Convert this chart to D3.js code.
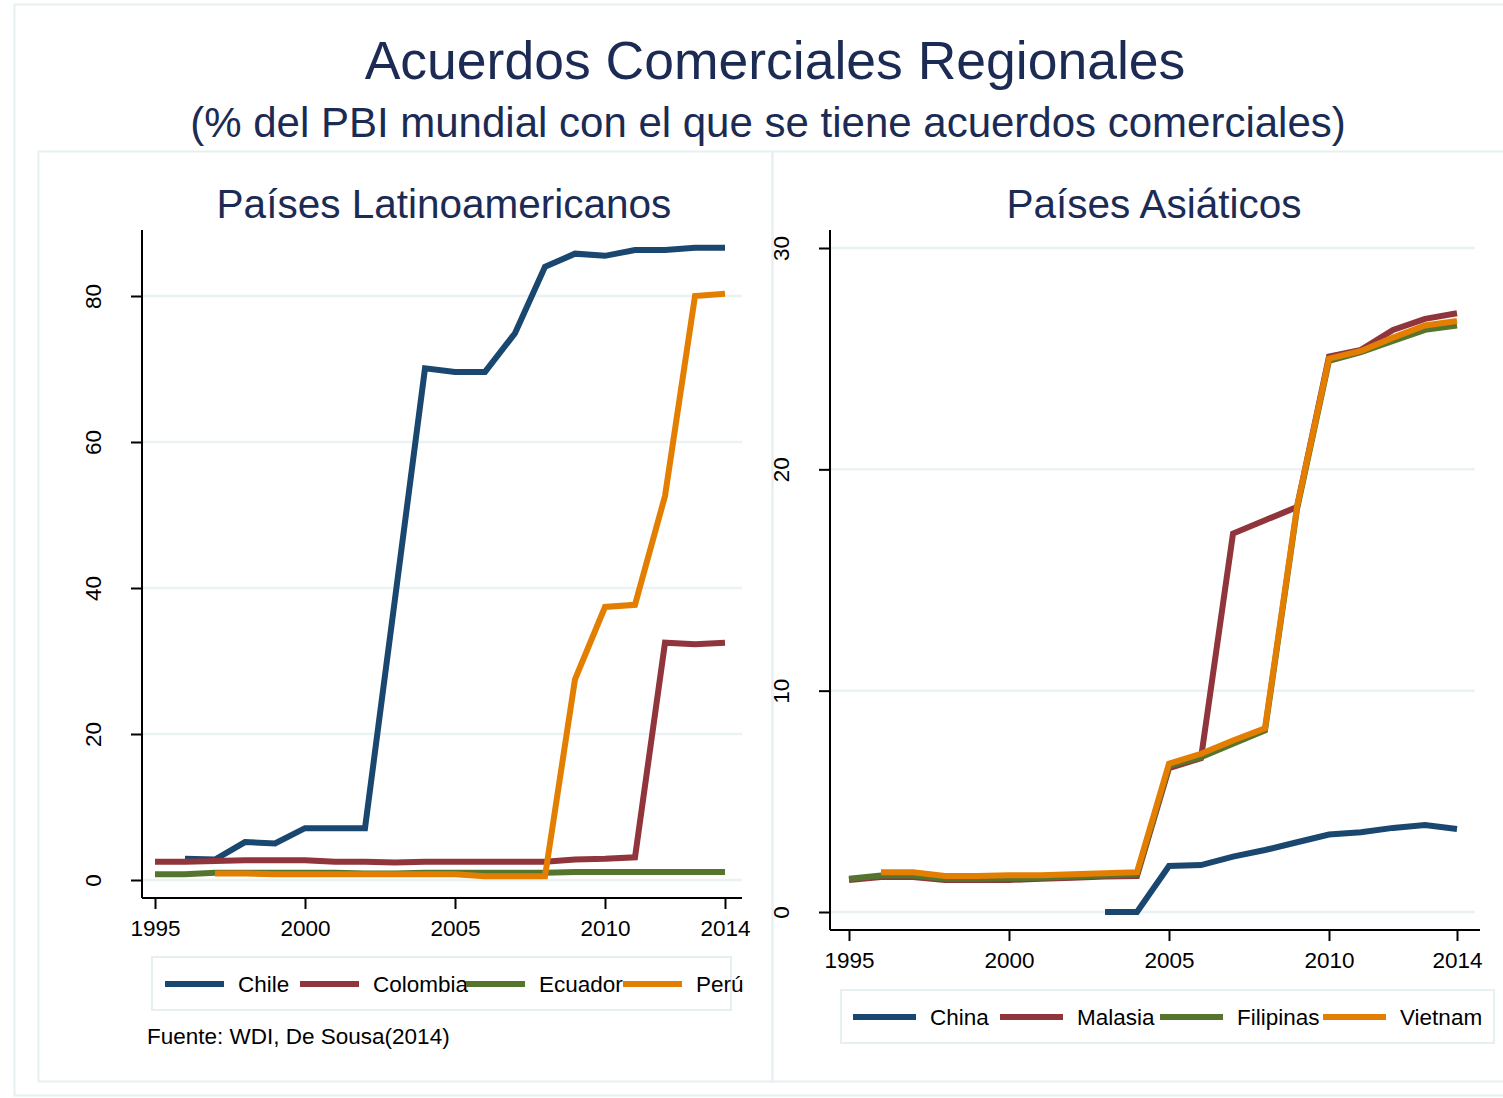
<!DOCTYPE html>
<html>
<head>
<meta charset="utf-8">
<script src="https://cdn.jsdelivr.net/npm/d3@7"></script>
<style>
  body { margin: 0; background: #fff; }
  svg { display: block; font-family: "Liberation Sans", Arial, sans-serif; }
</style>
</head>
<body>
<div id="chart"></div>
<script>
// data
var years = d3.range(1995, 2015);

var latamNames = ['Chile', 'Colombia', 'Ecuador', 'Perú'];
var chile    = [null, 2.9, 2.8, 5.2, 5.0, 7.1, 7.1, 7.1, 38.5, 70.1, 69.6, 69.6, 74.9, 84.0, 85.8, 85.5, 86.3, 86.3, 86.6, 86.6];
var colombia = [2.5, 2.5, 2.6, 2.7, 2.7, 2.7, 2.5, 2.5, 2.4, 2.5, 2.5, 2.5, 2.5, 2.5, 2.8, 2.9, 3.1, 32.5, 32.3, 32.5];
var ecuador  = [0.8, 0.8, 1.0, 1.0, 1.0, 1.0, 1.0, 0.9, 0.9, 1.0, 1.0, 1.0, 1.0, 1.0, 1.1, 1.1, 1.1, 1.1, 1.1, 1.1];
var peru     = [null, null, 0.9, 0.9, 0.8, 0.8, 0.8, 0.8, 0.8, 0.8, 0.8, 0.5, 0.5, 0.5, 27.5, 37.4, 37.7, 52.6, 80.0, 80.3];

var asiaNames = ['China', 'Malasia', 'Filipinas', 'Vietnam'];
var china     = [null, null, null, null, null, null, null, null, 0, 0, 2.08, 2.12, 2.5, 2.8, 3.15, 3.5, 3.6, 3.8, 3.93, 3.75];
var malasia   = [1.45, 1.58, 1.58, 1.45, 1.45, 1.45, 1.5, 1.55, 1.6, 1.63, 6.5, 6.95, 17.1, 17.7, 18.3, 25.1, 25.4, 26.3, 26.8, 27.05];
var filipinas = [1.5, 1.65, 1.65, 1.5, 1.5, 1.52, 1.55, 1.6, 1.65, 1.7, 6.6, 7.0, 7.6, 8.2, 18.2, 24.9, 25.3, 25.8, 26.3, 26.5];
var vietnam   = [null, 1.8, 1.8, 1.63, 1.63, 1.66, 1.66, 1.7, 1.75, 1.8, 6.7, 7.15, 7.75, 8.3, 18.3, 25.0, 25.35, 25.95, 26.5, 26.7];

var xTicks = [1995, 2000, 2005, 2010, 2014];
var latamYTicks = [0, 20, 40, 60, 80];
var asiaYTicks = [0, 10, 20, 30];

var colors = ['#1a476f', '#90353b', '#55752f', '#e37e00'];

var W = 1503, H = 1098;
var svg = d3.select('#chart').append('svg').attr('width', W).attr('height', H);

var frame = '#e6eff1', grid = '#eaf2f3', navy = '#1c2b54';
var fam = '"Liberation Sans", Arial, sans-serif';

// outer frame and panel boxes
svg.append('rect').attr('x', 14.5).attr('y', 4.5).attr('width', W).attr('height', 1091)
  .attr('fill', 'none').attr('stroke', frame).attr('stroke-width', 2);
svg.append('rect').attr('x', 38.5).attr('y', 151.5).attr('width', 734).attr('height', 930)
  .attr('fill', 'none').attr('stroke', frame).attr('stroke-width', 2);
svg.append('rect').attr('x', 772.5).attr('y', 151.5).attr('width', 740).attr('height', 930)
  .attr('fill', 'none').attr('stroke', frame).attr('stroke-width', 2);

svg.append('text').attr('x', 775).attr('y', 79).attr('text-anchor', 'middle')
  .attr('font-size', 53.5).attr('fill', navy).text('Acuerdos Comerciales Regionales');
svg.append('text').attr('x', 768).attr('y', 137).attr('text-anchor', 'middle')
  .attr('font-size', 42).attr('fill', navy).text('(% del PBI mundial con el que se tiene acuerdos comerciales)');

function panel(opt) {
  var g = svg.append('g');
  var x = d3.scaleLinear().domain([1995, 2014]).range([opt.x0, opt.x1]);
  var y = d3.scaleLinear().domain([0, opt.ymax]).range([opt.y0, opt.y1]);

  g.append('text').attr('x', opt.titleX).attr('y', 218).attr('text-anchor', 'middle')
    .attr('font-size', 40.5).attr('fill', navy).text(opt.title);

  // grid
  g.selectAll('.grid').data(opt.yTicks).enter().append('line')
    .attr('x1', opt.axX).attr('x2', opt.gridEnd)
    .attr('y1', function(d) { return y(d); }).attr('y2', function(d) { return y(d); })
    .attr('stroke', grid).attr('stroke-width', 2.5);

  // y axis
  var ya = g.append('g').attr('transform', 'translate(' + opt.axX + ',0)')
    .call(d3.axisLeft(y).tickValues(opt.yTicks).tickSize(11).tickPadding(0).tickFormat(d3.format('d')));
  ya.select('.domain').attr('d', 'M0,' + opt.axTop + 'V' + opt.axY).attr('stroke', '#000').attr('stroke-width', 2);
  ya.selectAll('.tick line').attr('stroke', '#000').attr('stroke-width', 2);
  ya.selectAll('.tick text').attr('font-size', 22.5).attr('fill', '#000').attr('font-family', fam)
    .attr('transform', 'translate(-49,0) rotate(-90)').attr('text-anchor', 'middle').attr('x', 0).attr('dy', '0.35em');

  // x axis
  var xa = g.append('g').attr('transform', 'translate(0,' + opt.axY + ')')
    .call(d3.axisBottom(x).tickValues(xTicks).tickSize(11).tickPadding(11).tickFormat(d3.format('d')));
  xa.select('.domain').attr('d', 'M' + opt.axX + ',0H' + opt.axRight).attr('stroke', '#000').attr('stroke-width', 2);
  xa.selectAll('.tick line').attr('stroke', '#000').attr('stroke-width', 2);
  xa.selectAll('.tick text').attr('font-size', 22.5).attr('fill', '#000').attr('font-family', fam);

  var line = d3.line()
    .defined(function(d) { return d != null; })
    .x(function(d, i) { return x(years[i]); })
    .y(function(d) { return y(d); });

  g.selectAll('.series').data(opt.series).enter().append('path')
    .attr('d', line).attr('fill', 'none')
    .attr('stroke', function(d, i) { return colors[i]; })
    .attr('stroke-width', 6).attr('stroke-linejoin', 'miter');

  // legend
  g.append('rect').attr('x', opt.lx).attr('y', opt.ly).attr('width', opt.lw).attr('height', 53)
    .attr('fill', 'none').attr('stroke', frame).attr('stroke-width', 2);
  var items = g.selectAll('.leg').data(opt.names).enter().append('g')
    .attr('transform', function(d, i) { return 'translate(' + opt.legX[i] + ',' + (opt.ly + 27) + ')'; });
  items.append('line').attr('x1', 0).attr('x2', opt.sw).attr('y1', 0).attr('y2', 0)
    .attr('stroke', function(d, i) { return colors[i]; }).attr('stroke-width', 6);
  items.append('text').attr('x', opt.sw + 14).attr('y', 8).attr('font-size', 22.5).attr('fill', '#000')
    .text(function(d) { return d; });
}

panel({
  title: 'Países Latinoamericanos', titleX: 444,
  x0: 155, x1: 725, y0: 880, y1: 296, ymax: 80,
  axX: 142, axY: 898, axTop: 230, axRight: 742, gridEnd: 742,
  yTicks: latamYTicks,
  series: [chile, colombia, ecuador, peru], names: latamNames,
  lx: 152, ly: 957, lw: 579, sw: 59, legX: [165, 300, 466, 623]
});

panel({
  title: 'Países Asiáticos', titleX: 1154,
  x0: 849, x1: 1457, y0: 912, y1: 248, ymax: 30,
  axX: 830, axY: 930, axTop: 230, axRight: 1480, gridEnd: 1475,
  yTicks: asiaYTicks,
  series: [china, malasia, filipinas, vietnam], names: asiaNames,
  lx: 841, ly: 990, lw: 653, sw: 63, legX: [853, 1000, 1160, 1323]
});

svg.append('text').attr('x', 147).attr('y', 1044).attr('font-size', 22.5).attr('fill', '#000')
  .text('Fuente: WDI, De Sousa(2014)');
</script>
</body>
</html>
